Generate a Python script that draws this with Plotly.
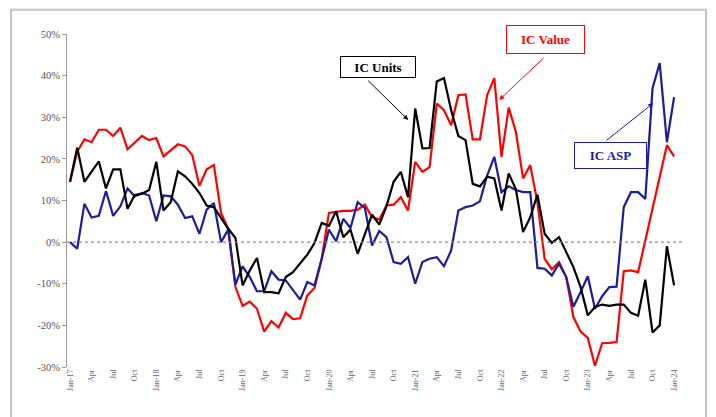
import plotly.graph_objects as go

# ---- categories (monthly, Jan-17 .. Jan-24) ----
month_names = ["Jan", "Feb", "Mar", "Apr", "May", "Jun", "Jul", "Aug", "Sep", "Oct", "Nov", "Dec"]
year_codes = ["17", "18", "19", "20", "21", "22", "23", "24"]
categories = [f"{m}-{y}" for y in year_codes for m in month_names][:85]
tick_vals = categories[::3]
tick_text = [c if c.startswith("Jan") else c[:3] for c in tick_vals]

# ---- series values (% YoY) ----
ic_value = [
    14.5, 21.7, 24.7, 24.0, 27.0, 27.0, 25.5, 27.5, 22.3, 24.0, 25.5, 24.5,
    25.0, 20.6, 22.0, 23.5, 23.0, 20.9, 13.5, 17.5, 18.5, 7.0, 3.2, -10.8,
    -15.3, -14.3, -16.0, -21.5, -19.0, -20.5, -17.0, -18.5, -18.3, -12.8, -11.0, -4.0,
    7.0, 7.3, 7.5, 7.5, 7.8, 9.0, 6.0, 5.4, 8.8, 9.0, 10.8, 7.6,
    19.3, 16.9, 18.0, 33.3, 31.7, 28.1, 35.3, 35.5, 24.7, 24.7, 35.3, 39.4,
    20.5, 32.3, 26.5, 15.3, 18.5, 9.5, -4.0, -6.5, -4.8, -8.4, -18.0, -21.5,
    -23.0, -29.7, -24.3, -24.2, -24.0, -7.0, -6.8, -7.2, 0.5, 8.0, 15.5, 23.3,
    20.6,
]
ic_units = [
    14.5, 22.7, 14.5, 17.0, 19.4, 12.9, 17.5, 17.5, 8.0, 11.3, 11.6, 12.5,
    19.3, 7.6, 9.6, 17.0, 15.8, 14.0, 11.8, 8.8, 8.4, 5.8, 3.2, 1.0,
    -10.4, -6.8, -3.8, -12.0, -12.0, -12.3, -8.4, -7.2, -5.1, -3.0, -0.2, 4.6,
    3.9, 7.4, 1.2, 3.0, -2.8, 2.0, 6.6, 4.2, 8.6, 14.5, 16.9, 10.8,
    32.1, 22.5, 22.6, 38.6, 39.4, 31.7, 25.5, 24.5, 14.0, 13.4, 15.7, 15.3,
    7.6, 16.5, 12.7, 2.4, 6.0, 11.4, 2.0, -0.2, 1.2, -2.4, -6.0, -10.8,
    -17.6, -15.6, -15.0, -15.3, -15.0, -15.0, -17.0, -17.7, -9.0, -21.7, -20.0, -1.0,
    -10.4,
]
ic_asp = [
    0.0, -1.6, 9.2, 5.9, 6.3, 12.3, 6.3, 8.6, 12.9, 11.0, 11.8, 11.2,
    5.0, 11.2, 11.0, 9.0, 5.8, 6.2, 2.0, 7.8, 9.4, 0.0, 3.0, -10.2,
    -5.8, -8.4, -11.8, -11.8, -7.0, -9.0, -9.2, -11.6, -13.8, -9.6, -10.4, -4.0,
    3.0, 0.2, 5.6, 3.4, 9.6, 8.2, -0.8, 2.7, 1.2, -4.8, -5.2, -3.6,
    -10.0, -4.8, -4.0, -3.6, -5.8, -2.0, 7.6, 8.4, 8.8, 9.8, 16.0, 20.5,
    12.0, 13.4, 12.5, 12.0, 12.0, -6.2, -6.4, -8.0, -5.2, -8.4, -15.5, -12.0,
    -8.2, -16.0, -13.0, -10.8, -10.7, 8.4, 12.0, 12.0, 10.4, 37.0, 43.0, 24.0,
    34.8,
]

y_tick_vals = [-30, -20, -10, 0, 10, 20, 30, 40, 50]
y_tick_text = ["-30%", "-20%", "-10%", "0%", "10%", "20%", "30%", "40%", "50%"]

RED = "#ff0000"
BLUE = "#1c1c9c"
BLACK = "#000000"
SERIF = "Liberation Serif, Times New Roman, serif"

fig = go.Figure()
fig.add_trace(go.Scatter(x=categories, y=ic_value, mode="lines", name="IC Value",
                         line=dict(color=RED, width=2.2)))
fig.add_trace(go.Scatter(x=categories, y=ic_asp, mode="lines", name="IC ASP",
                         line=dict(color=BLUE, width=2.2)))
fig.add_trace(go.Scatter(x=categories, y=ic_units, mode="lines", name="IC Units",
                         line=dict(color=BLACK, width=2.2)))

fig.update_layout(
    width=716, height=417,
    margin=dict(l=67, r=34, t=34, b=50),
    paper_bgcolor="white", plot_bgcolor="white",
    showlegend=False,
    font=dict(family=SERIF),
    xaxis=dict(
        type="category", range=[-0.42, 85.1],
        tickmode="array", tickvals=tick_vals, ticktext=tick_text,
        tickangle=-90, tickfont=dict(family=SERIF, size=8, color="#666666"),
        showline=False, showgrid=False, zeroline=False, ticks="",
    ),
    yaxis=dict(
        range=[-30, 50], tickmode="array", tickvals=y_tick_vals, ticktext=y_tick_text,
        tickfont=dict(family=SERIF, size=10.5, color="#555555"),
        showline=True, linecolor="#999999", linewidth=1,
        ticks="outside", ticklen=4, tickcolor="#999999",
        showgrid=False, zeroline=False,
    ),
)

# zero line (dotted) and outer frame
fig.add_shape(type="line", xref="paper", yref="y", x0=0, x1=1, y0=0, y1=0,
              line=dict(color="#8a8a8a", width=1.2, dash="dot"))
fig.add_shape(type="rect", xref="paper", yref="paper",
              x0=-0.091, x1=1.039, y0=-0.3, y1=1.0727,
              line=dict(color="#c4c4c4", width=2))

# label boxes
boxes = [
    ("<b>IC Units</b>", 0.5057, 0.901, BLACK, 72, 18),
    ("<b>IC Value</b>", 0.778, 0.9826, RED, 75, 25),
    ("<b>IC ASP</b>", 0.8837, 0.6337, BLUE, 69, 23),
]
for text, bx, by, col, w, h in boxes:
    fig.add_annotation(text=text, xref="paper", yref="paper", x=bx, y=by,
                       xanchor="center", yanchor="middle", showarrow=False,
                       font=dict(family=SERIF, size=13, color=col),
                       bordercolor=col, borderwidth=1, borderpad=1,
                       bgcolor="white", width=w, height=h)

# arrows
arrows = [
    (0.5549, 0.7419, -41.6, -40.7, BLACK),
    (0.7029, 0.8021, 45.7, -43.3, RED),
    (0.9533, 0.7922, -48.3, 38.4, BLUE),
]
for hx, hy, ax, ay, col in arrows:
    fig.add_annotation(text="", xref="paper", yref="paper", x=hx, y=hy,
                       ax=ax, ay=ay, showarrow=True, arrowhead=2, arrowsize=1,
                       arrowwidth=1, arrowcolor=col)

fig.write_html("out.html")
